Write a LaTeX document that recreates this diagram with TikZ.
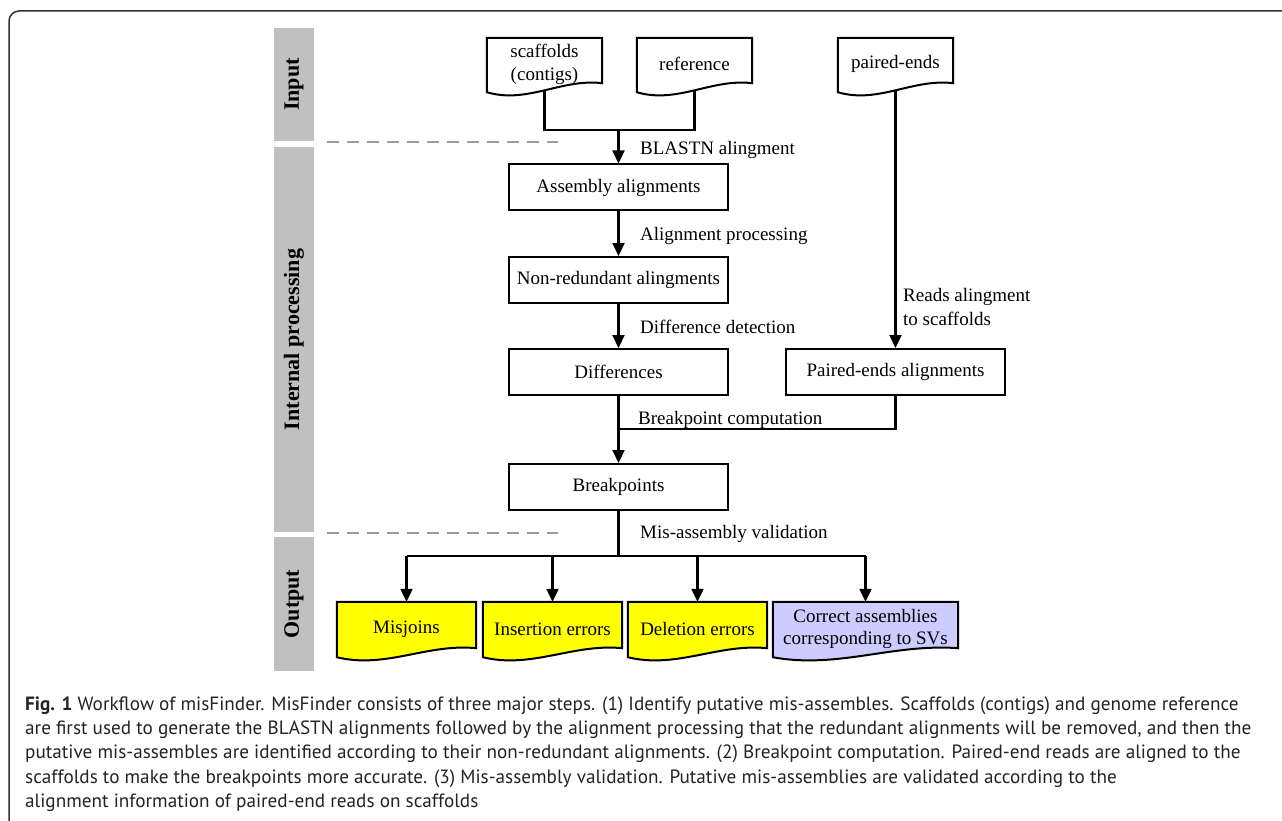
\documentclass[tikz,border=0pt]{standalone}
\usepackage{fontspec}
\setmainfont{Liberation Serif}
\newfontfamily\capfont{PT Sans}
\usetikzlibrary{arrows.meta,calc}
\definecolor{barg}{RGB}{192,192,192}
\definecolor{sepg}{RGB}{155,155,155}
\definecolor{framec}{RGB}{50,50,50}
\definecolor{outy}{RGB}{255,255,0}
\definecolor{outv}{RGB}{204,204,255}
\definecolor{captc}{RGB}{35,35,35}
\pgfdeclarelayer{connlayer}\pgfdeclarelayer{shp}
\pgfsetlayers{connlayer,shp,main}
% #1 node, #2 fill, #3 lift of right corner, #4 drop of left corner
\newcommand\docshape[4]{%
\begin{pgfonlayer}{shp}
\draw[line width=2pt, fill=#2] (#1.north west) -- (#1.north east) -- ($(#1.south east)+(0,-#3)$)
 .. controls ($(#1.south east)!0.35!(#1.south west)+(0,-#3-5)$) and ($(#1.south west)!0.35!(#1.south east)+(0,#4+12)$) .. ($(#1.south west)+(0,#4)$) -- cycle;
\end{pgfonlayer}}
\begin{document}
\begin{tikzpicture}[x=1pt,y=-1pt,
 box/.style={draw, line width=2pt, minimum width=219pt, minimum height=46pt, inner sep=0pt, font=\fontsize{19}{22}\selectfont},
 doc/.style={minimum width=115pt, minimum height=52pt, inner sep=0pt, align=center, font=\fontsize{19}{23}\selectfont},
 odoc/.style={minimum height=54pt, inner sep=0pt, align=center, font=\fontsize{19}{22}\selectfont},
 lbl/.style={anchor=west, inner sep=0pt, font=\fontsize{19}{24}\selectfont, align=left},
 bar/.style={fill=barg, rotate=90, inner sep=0pt, minimum height=40pt, font=\fontsize{22}{24}\selectfont\bfseries},
 connline/.style={line width=2.2pt},
 arr/.style={connline, -{Triangle[length=13pt,width=12pt]}},
 sep/.style={draw=sepg, line width=2.8pt, dash pattern=on 12pt off 8pt},
 captext/.style={anchor=base west, inner sep=0pt, text=captc, font=\capfont\fontsize{19.2}{19.2}\selectfont},
 ]
\useasboundingbox (0,0) rectangle (1282,821);
% frame
\draw[framec, line width=1.5pt, rounded corners=10pt] (9,822) -- (9,11) -- (1283,11);
% side bars
\node[bar, minimum width=113pt] (inbar) at (294,84.5) {Input};
\node[bar, minimum width=385pt] (procbar) at (294,339.5) {Internal processing};
\node[bar, minimum width=134pt] (outbar) at (294,604) {Output};
% separators
\coordinate (s1a) at (327,142); \coordinate (s1b) at (558,142);
\coordinate (s2a) at (327,533); \coordinate (s2b) at (558,533);
\draw[sep] (s1a) -- (s1b);
\draw[sep] (s2a) -- (s2b);
% input documents
\node[doc] (scaf) at (544.5,64) {scaffolds\\(contigs)};
\node[doc] (ref) at (694.5,64) {reference};
\node[doc] (pe) at (895.5,64) {paired-ends};
\docshape{scaf}{white}{7}{2}
\docshape{ref}{white}{7}{2}
\docshape{pe}{white}{7}{2}
% main boxes
\node[box] (asm) at (618.5,187.5) {Assembly alignments};
\node[box] (nr) at (618.5,280) {Non-redundant alingments};
\node[box] (diff) at (618.5,372) {Differences};
\node[box] (pea) at (895.5,372) {Paired-ends alignments};
\node[box] (bp) at (618.5,487) {Breakpoints};
% outputs
\node[odoc, minimum width=139pt] (mis) at (406.5,629) {Misjoins};
\node[odoc, minimum width=139pt] (ins) at (552.5,629) {Insertion errors};
\node[odoc, minimum width=139pt] (del) at (697.5,629) {Deletion errors};
\node[odoc, minimum width=185pt] (cor) at (865.5,629) {Correct assemblies\\corresponding to SVs};
\docshape{mis}{outy}{8}{1}
\docshape{ins}{outy}{8}{1}
\docshape{del}{outy}{8}{1}
\docshape{cor}{outv}{8}{1}
% connectors
\coordinate (jn) at (618.5,130);
\coordinate (bpj) at (618.5,429);
\coordinate (oj) at (618.5,556);
\begin{pgfonlayer}{connlayer}
\draw[connline] (scaf.south) |- (jn) -| (ref.south);
\draw[arr] (pe.south) -- (pea.north);
\end{pgfonlayer}
\draw[arr] (jn) -- (asm.north);
\draw[arr] (asm.south) -- (nr.north);
\draw[arr] (nr.south) -- (diff.north);
\draw[arr] (diff.south) -- (bp.north);
\draw[connline] (pea.south) |- (bpj);
\draw[connline] (bp.south) -- (oj);
\draw[connline] (mis.north |- oj) -- (cor.north |- oj);
\draw[arr] (mis.north |- oj) -- (mis.north);
\draw[arr] (ins.north |- oj) -- (ins.north);
\draw[arr] (del.north |- oj) -- (del.north);
\draw[arr] (cor.north |- oj) -- (cor.north);
% labels
\node[lbl] (l1) at (640,150) {BLASTN alingment};
\node[lbl] (l2) at (640,236) {Alignment processing};
\node[lbl] (l3) at (640,327) {Difference detection};
\node[lbl] (l4) at (903,307) {Reads alingment\\to scaffolds};
\node[lbl] (l5) at (638,420) {Breakpoint computation};
\node[lbl] (l6) at (640,534) {Mis-assembly validation};
% caption
\node[captext] (c1) at (25,710) {\textbf{Fig. 1} Workflow of misFinder. MisFinder consists of three major steps. (1) Identify putative mis-assembles. Scaffolds (contigs) and genome reference};
\node[captext] (c2) at (25,734.5) {are first used to generate the BLASTN alignments followed by the alignment processing that the redundant alignments will be removed, and then the};
\node[captext] (c3) at (25,758.5) {putative mis-assembles are identified according to their non-redundant alignments. (2) Breakpoint computation. Paired-end reads are aligned to the};
\node[captext] (c4) at (25,783) {scaffolds to make the breakpoints more accurate. (3) Mis-assembly validation. Putative mis-assemblies are validated according to the};
\node[captext] (c5) at (25,807) {alignment information of paired-end reads on scaffolds};
\end{tikzpicture}
\end{document}
